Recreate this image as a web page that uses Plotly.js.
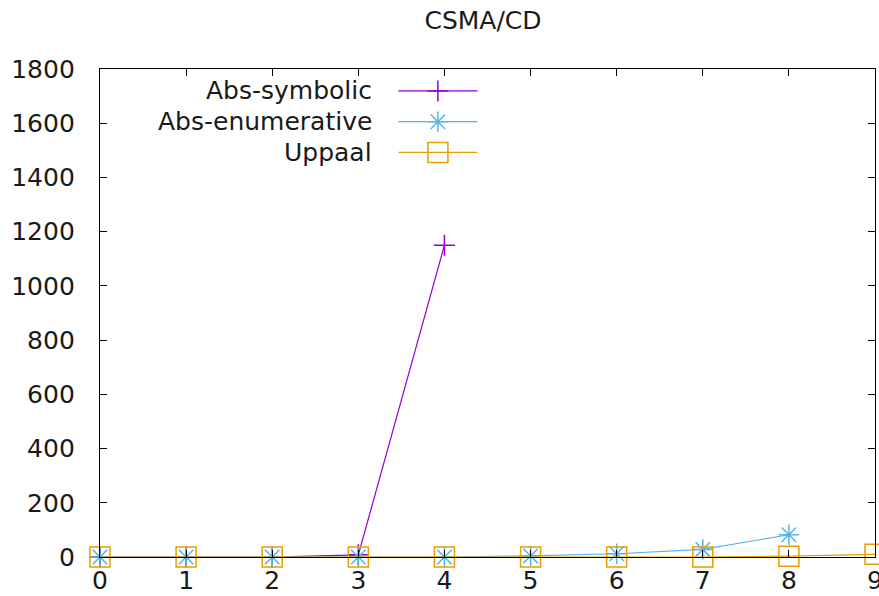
<!DOCTYPE html>
<html>
<head>
<meta charset="utf-8">
<script src="https://cdn.plot.ly/plotly-3.0.1.min.js"></script>
<style>html,body{margin:0;padding:0;background:#fff;}#chart{width:879px;height:596px;}</style>
</head>
<body>
<div id="chart"></div>
<script>
// ---- data ----
const seriesNames = ["Abs-symbolic", "Abs-enumerative", "Uppaal"];
const symbolicX = [0, 1, 2, 3, 4];
const symbolicY = [0, 0, 0, 8, 1150];
const enumerativeX = [0, 1, 2, 3, 4, 5, 6, 7, 8];
const enumerativeY = [0, 0, 0, 0, 0, 4, 12, 28, 82];
const uppaalX = [0, 1, 2, 3, 4, 5, 6, 7, 8, 9];
const uppaalY = [0, 0, 0, 0, 0, 0, 0, 0, 3, 10];
const xTicks = [0, 1, 2, 3, 4, 5, 6, 7, 8, 9];
const yTicks = [0, 200, 400, 600, 800, 1000, 1200, 1400, 1600, 1800];

// ---- styles ----
const FONT = "DejaVu Sans";
const FS = 25;
const colors = ["#9400d3", "#56b4e9", "#e69f00"];
const symbols = ["cross-thin-open", "asterisk-open", "square-open"];
const sizes = [15, 17, 20];

const dataX = [symbolicX, enumerativeX, uppaalX];
const dataY = [symbolicY, enumerativeY, uppaalY];

const traces = [];
for (let i = 0; i < 3; i++) {
  traces.push({
    type: "scatter", mode: "lines+markers",
    x: dataX[i], y: dataY[i], name: seriesNames[i],
    line: {color: colors[i], width: 1.2},
    marker: {symbol: symbols[i], size: sizes[i], color: colors[i], line: {color: colors[i], width: 1.5}},
    cliponaxis: false, showlegend: false, hoverinfo: "skip"
  });
}

// ---- key (gnuplot style: text right, sample on the right) in overlay paper-like axes ----
const keyRows = [0.955, 0.892, 0.829];
const keyTextX = 0.354, keyLineX0 = 0.385, keyLineX1 = 0.487, keyMarkX = 0.436;
const annotations = [];
for (let i = 0; i < 3; i++) {
  traces.push({
    type: "scatter", mode: "lines", xaxis: "x2", yaxis: "y2",
    x: [keyLineX0, keyLineX1], y: [keyRows[i], keyRows[i]],
    line: {color: colors[i], width: 1.2}, showlegend: false, hoverinfo: "skip"
  });
  traces.push({
    type: "scatter", mode: "markers", xaxis: "x2", yaxis: "y2",
    x: [keyMarkX], y: [keyRows[i]],
    marker: {symbol: symbols[i], size: sizes[i], color: colors[i], line: {color: colors[i], width: 1.5}},
    showlegend: false, hoverinfo: "skip", cliponaxis: false
  });
  annotations.push({
    xref: "x2", yref: "y2", x: keyTextX, y: keyRows[i],
    xanchor: "right", yanchor: "middle", showarrow: false,
    text: seriesNames[i], font: {family: FONT, size: FS, color: "#1a1a1a"}
  });
}

const layout = {
  width: 879, height: 596,
  margin: {l: 100, r: 4, t: 69, b: 39},
  paper_bgcolor: "#ffffff", plot_bgcolor: "#ffffff",
  font: {family: FONT, size: FS, color: "#1a1a1a"},
  showlegend: false,
  title: {text: "CSMA/CD", x: 0.5495, xanchor: "center", xref: "container", y: 0.966, yanchor: "middle", yref: "container",
          font: {family: FONT, size: FS, color: "#1a1a1a"}},
  xaxis: {
    range: [0, 9], tickvals: xTicks, ticktext: xTicks.map(String),
    showgrid: false, zeroline: false, showline: true, linecolor: "#000", linewidth: 1.2,
    mirror: "ticks", ticks: "inside", ticklen: 7, tickcolor: "#000", tickwidth: 1.2,
    tickfont: {family: FONT, size: FS, color: "#1a1a1a"}, ticklabelstandoff: 1,
    ticklabeloverflow: "allow", fixedrange: true
  },
  yaxis: {
    range: [0, 1800], tickvals: yTicks, ticktext: yTicks.map(String),
    showgrid: false, zeroline: false, showline: true, linecolor: "#000", linewidth: 1.2,
    mirror: "ticks", ticks: "inside", ticklen: 7, tickcolor: "#000", tickwidth: 1.2,
    tickfont: {family: FONT, size: FS, color: "#1a1a1a"}, ticklabelstandoff: 19,
    ticklabeloverflow: "allow", fixedrange: true
  },
  xaxis2: {overlaying: "x", range: [0, 1], visible: false, fixedrange: true},
  yaxis2: {overlaying: "y", range: [0, 1], visible: false, fixedrange: true},
  annotations: annotations
};

Plotly.newPlot("chart", traces, layout, {staticPlot: true, displayModeBar: false});
</script>
</body>
</html>
